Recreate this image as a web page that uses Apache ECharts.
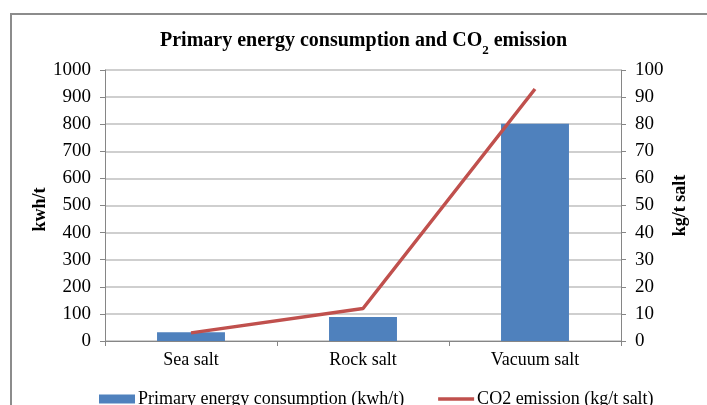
<!DOCTYPE html>
<html>
<head>
<meta charset="utf-8">
<script src="https://cdn.jsdelivr.net/npm/echarts@6/dist/echarts.min.js"></script>
<style>
  html, body { margin: 0; padding: 0; background: #fff; }
  #chart { width: 707px; height: 405px; }
</style>
</head>
<body>
<div id="chart"></div>
<script>
// Salt production routes and their energy / emission figures
const categories = ['Sea salt', 'Rock salt', 'Vacuum salt'];
const energyKwhPerT = [32, 89, 802];
const co2KgPerT = [3, 12, 93];
const leftTicks = { min: 0, max: 1000, interval: 100 };
const rightTicks = { min: 0, max: 100, interval: 10 };

const FONT = '"Liberation Serif", "Times New Roman", serif';
const AXIS_GREY = '#868686';
const GRID_GREY = '#bfbfbf';

const chart = echarts.init(document.getElementById('chart'), null, { renderer: 'canvas' });

chart.setOption({
  backgroundColor: '#ffffff',
  animation: false,
  textStyle: { fontFamily: FONT, color: '#000' },
  graphic: [{
    type: 'rect',
    shape: { x: 11, y: 14, width: 720, height: 420 },
    style: { fill: 'none', stroke: '#8c8c8c', lineWidth: 2 },
    silent: true
  }],
  title: {
    text: 'Primary energy consumption and CO{sub|2} emission',
    left: 160,
    top: 31,
    padding: 0,
    textStyle: {
      fontFamily: FONT,
      fontSize: 20,
      fontWeight: 'bold',
      color: '#000',
      rich: {
        sub: {
          fontFamily: FONT,
          fontSize: 13,
          fontWeight: 'bold',
          verticalAlign: 'bottom',
          padding: [0, 0, -6, 0]
        }
      }
    }
  },
  grid: { left: 105, right: 86, top: 70, bottom: 64, containLabel: false },
  legend: {
    left: 94,
    top: 385,
    itemWidth: 36,
    itemHeight: 9,
    itemGap: 34,
    textStyle: { fontFamily: FONT, fontSize: 18, color: '#000', padding: [0, 0, 0, -2] },
    data: [
      { name: 'Primary energy consumption (kwh/t)', icon: 'rect' },
      { name: 'CO2 emission (kg/t salt)', icon: 'path://M0,0 L36,0 L36,3.5 L0,3.5 Z' }
    ]
  },
  xAxis: {
    type: 'category',
    data: categories,
    boundaryGap: true,
    axisLine: { lineStyle: { color: AXIS_GREY, width: 1 } },
    axisTick: { show: true, alignWithLabel: false, length: 5, lineStyle: { color: AXIS_GREY } },
    axisLabel: { fontFamily: FONT, fontSize: 18, color: '#000', margin: 10 }
  },
  yAxis: [
    {
      type: 'value',
      position: 'left',
      min: leftTicks.min,
      max: leftTicks.max,
      interval: leftTicks.interval,
      name: 'kwh/t',
      nameLocation: 'middle',
      nameGap: 56,
      nameMoveOverlap: false,
      nameRotate: 90,
      nameTextStyle: { fontFamily: FONT, fontSize: 18, fontWeight: 'bold', color: '#000', padding: [0, 8, 0, 0] },
      axisLine: { show: true, lineStyle: { color: AXIS_GREY, width: 1 } },
      axisTick: { show: true, length: 5, lineStyle: { color: AXIS_GREY } },
      axisLabel: {
        fontFamily: FONT, fontSize: 19, color: '#000', margin: 14,
        formatter: (v) => String(v)
      },
      splitLine: { show: true, lineStyle: { color: GRID_GREY, width: 1.5 } }
    },
    {
      type: 'value',
      position: 'right',
      min: rightTicks.min,
      max: rightTicks.max,
      interval: rightTicks.interval,
      name: 'kg/t salt',
      nameLocation: 'middle',
      nameGap: 50,
      nameMoveOverlap: false,
      nameRotate: 90,
      nameTextStyle: { fontFamily: FONT, fontSize: 18, fontWeight: 'bold', color: '#000' },
      axisLine: { show: true, lineStyle: { color: AXIS_GREY, width: 1 } },
      axisTick: { show: true, length: 5, lineStyle: { color: AXIS_GREY } },
      axisLabel: {
        fontFamily: FONT, fontSize: 19, color: '#000', margin: 14,
        formatter: (v) => String(v)
      },
      splitLine: { show: false }
    }
  ],
  series: [
    {
      name: 'Primary energy consumption (kwh/t)',
      type: 'bar',
      yAxisIndex: 0,
      data: energyKwhPerT,
      barWidth: '39.5%',
      itemStyle: { color: '#4f81bd' }
    },
    {
      name: 'CO2 emission (kg/t salt)',
      type: 'line',
      yAxisIndex: 1,
      data: co2KgPerT,
      symbol: 'none',
      showSymbol: false,
      lineStyle: { color: '#c0504d', width: 3.5 },
      itemStyle: { color: '#c0504d' }
    }
  ]
});
</script>
</body>
</html>
